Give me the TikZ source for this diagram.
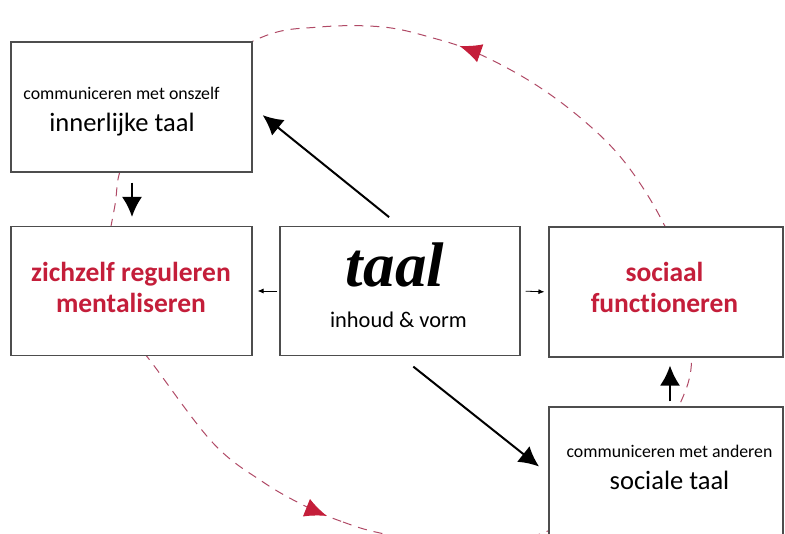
\documentclass[tikz,border=0pt]{standalone}
\usepackage{fontspec}
\setsansfont{Carlito}[Ligatures=NoCommon]
\newfontfamily\schriftletter{Liberation Serif}
\usetikzlibrary{arrows.meta,decorations.markings}
\definecolor{taalrood}{HTML}{C41E3A}
\definecolor{lusrood}{HTML}{B04A66}
\definecolor{randgrijs}{HTML}{4D4D4D}

\begin{document}
\begin{tikzpicture}[x=1pt, y=-1pt, font=\sffamily,
  blok/.style={draw=randgrijs, line width=1.1pt, fill=white, minimum width=240pt, minimum height=129pt},
  klein/.style={anchor=base, inner sep=0pt, font=\sffamily\fontsize{17.8}{20}\selectfont},
  groot/.style={anchor=base, inner sep=0pt, font=\sffamily\fontsize{26.5}{30}\selectfont},
  rood/.style={anchor=base, inner sep=0pt, text=taalrood, font=\sffamily\bfseries\fontsize{27.5}{30}\selectfont},
  middel/.style={anchor=base, inner sep=0pt, font=\sffamily\fontsize{22.4}{26}\selectfont},
  schrift/.style={anchor=base, inner sep=0pt, font=\schriftletter\bfseries\itshape\fontsize{63}{70}\selectfont},
  pijl/.style={>={Latex[length=20pt,width=20pt]}, ->, line width=2pt},
  dunpijl/.style={>={Latex[length=6pt,width=5pt]}, ->, line width=0.8pt},
  lus/.style={draw=lusrood, line width=1pt, dash pattern=on 9pt off 7pt}
]

\useasboundingbox (0,0) rectangle (785,534);

\draw[lus, postaction={decorate, decoration={markings,
    mark=at position 0.5 with {\arrow[taalrood]{Latex[length=22pt,width=19pt]}},
    mark=at position 0.99 with {\arrow[taalrood]{Latex[length=22pt,width=19pt]}}}}]
  plot[smooth cycle, tension=0.6] coordinates {(307,507) (343,522) (380,533) (450,545) (540,534)
    (630,480) (685,392) (690,330) (680,265) (658,213) (623,160) (583,120) (533,83) (477,53)
    (433,38) (383,27) (320,27) (260,38) (175,90) (125,160) (115,205) (107,265) (120,320)
    (152,363) (213,443) (263,482)};

\node[blok, minimum width=241pt, minimum height=130pt] (inner) at (131.5,107) {};
\node[blok, minimum width=241pt] (zelf) at (131.5,291) {};
\node[blok] (taal) at (400,291) {};
\node[blok, minimum width=234pt, minimum height=130pt] (sociaal) at (666,292) {};
\node[blok, minimum width=234pt, minimum height=134pt] (sociale) at (666,474) {};

\node[klein] (innerklein) at (121.5,100) {communiceren met onszelf};
\node[groot] (innergroot) at (122,132) {innerlijke taal};
\node[rood] (zelfboven) at (131,282) {zichzelf reguleren};
\node[rood] (zelfonder) at (131,313) {mentaliseren};
\node[schrift] (taalwoord) at (395,287) {taal};
\node[middel] (taalonder) at (398.5,328) {inhoud \& vorm};
\node[rood] (sociaalboven) at (664.5,282) {sociaal};
\node[rood] (sociaalonder) at (664.5,313) {functioneren};
\node[klein] (socialeklein) at (669.5,458) {communiceren met anderen};
\node[groot] (socialegroot) at (669.5,490) {sociale taal};

\draw[pijl, shorten <=14pt, shorten >=13pt] (taal.north) -- (inner.east);
\draw[pijl, shorten <=17pt, shorten >=12pt] (taal.south) -- (sociale.west);
\draw[pijl, shorten <=10pt, shorten >=9pt] ([xshift=0.5pt]inner.south) -- ([xshift=0.5pt]zelf.north);
\draw[pijl, shorten <=5pt, shorten >=8pt] ([xshift=4pt]sociale.north) -- ([xshift=4pt]sociaal.south);
\draw[dunpijl, shorten <=2pt, shorten >=5pt] (taal.west) -- (zelf.east);
\draw[dunpijl, shorten <=5pt, shorten >=4pt] (taal.east) -- (sociaal.west);

\end{tikzpicture}
\end{document}
